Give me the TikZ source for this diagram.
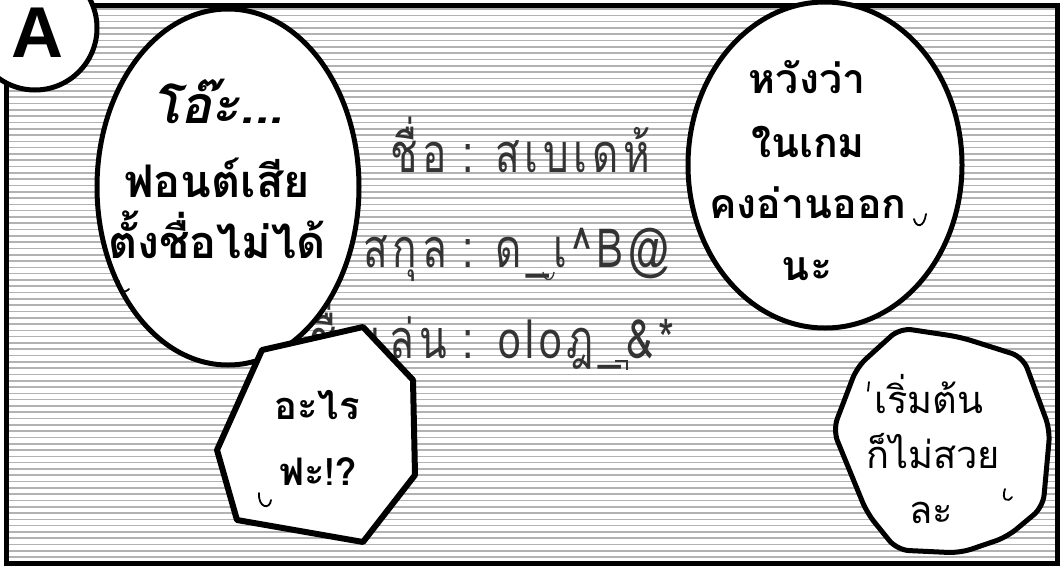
\documentclass[tikz,border=0pt]{standalone}
\usepackage{fontspec}
\newfontfamily\thaifont[Script=Thai]{Loma}
\newfontfamily\thaithin[Script=Thai,LetterSpace=12]{Loma}
\newfontfamily\panelfont{Liberation Sans}
\begin{document}
\begin{tikzpicture}[x=1pt,y=-1pt,
   bubble/.style={fill=white,draw=black,line width=5pt,line join=round},
   bgtext/.style={text=black!80,inner sep=0pt,xscale=0.75,
     font=\thaithin\fontsize{54}{54}\selectfont},
   talk/.style={anchor=base,inner sep=0pt,
     font=\thaifont\bfseries\fontsize{41}{41}\selectfont},
   breath/.style={line width=1.8pt,line cap=round}]
   \useasboundingbox (0,0) rectangle (1063,568);
   \fill[white] (0,0) rectangle (1063,568);
   \foreach \y in {9,15.3,...,561}
    \draw[black!30,line width=1.6pt] (8,\y) -- (1055,\y);
   \draw[line width=5pt] (6,5) rectangle (1057,563);
   \node[bgtext,anchor=base east] (name) at (447,172) {ชื่อ};
   \node[bgtext,anchor=base] (colA) at (468,172) {:};
   \node[bgtext,anchor=base west] (nameval) at (495,172) {สเบเดห้};
   \node[bgtext,anchor=base east] (surname) at (447,267) {สกุล};
   \node[bgtext,anchor=base] (colB) at (468,267) {:};
   \node[bgtext,anchor=base west] (surnameval) at (495,267) {ด\_เ\textasciicircum B@};
   \node[bgtext,anchor=base east] (nick) at (447,358) {ชื่อเล่น};
   \node[bgtext,anchor=base] (colC) at (468,358) {:};
   \node[bgtext,anchor=base west] (nickval) at (498,358) {oloฎ\_\&*};
   \draw[black!80,line width=1.3pt] (543,272) .. controls (544,282) and (553,282) .. (554,272);
   \draw[black!80,line width=1.3pt] (615,361) -- (627,361) -- (627,370);
   \draw[bubble] (228,187) ellipse [x radius=131,y radius=178];
   \draw[bubble] (825,165) ellipse [x radius=137,y radius=163];
   \draw[bubble,line width=6pt] (262,350) -- (363,327) -- (413,380) -- (415,475)
    -- (363,542) -- (237,520) -- (217,450) -- cycle;
   \draw[bubble,rounded corners=12pt] (900,328) -- (960,337) -- (1023,357)
    -- (1050,430) -- (1043,507) -- (1007,537) -- (960,553) -- (897,550)
    -- (867,513) -- (833,430) -- (857,367) -- cycle;
   \draw[fill=white,line width=5pt] (35,28) circle (62);
   \node[font=\panelfont\bfseries\fontsize{72}{72}\selectfont,inner sep=0pt] (panel) at (37,33) {A};
   \node[talk,font=\thaifont\bfseries\itshape\fontsize{52}{52}\selectfont] (oh) at (218,123) {โอ๊ะ...};
   \node[talk,font=\thaifont\bfseries\fontsize{45}{45}\selectfont] (font) at (217,197) {ฟอนต์เสีย};
   \node[talk,font=\thaifont\bfseries\fontsize{45}{45}\selectfont] (cant) at (217,258) {ตั้งชื่อไม่ได้};
   \node[talk] (hope) at (807,93) {หวังว่า};
   \node[talk] (ingame) at (808,157) {ในเกม};
   \node[talk] (read) at (808,218) {คงอ่านออก};
   \node[talk] (na) at (807,280) {นะ};
   \node[talk,font=\thaifont\bfseries\fontsize{38}{38}\selectfont] (what) at (317,419) {อะไร};
   \node[talk,font=\thaifont\bfseries\fontsize{38}{38}\selectfont] (wtf) at (318,485) {ฟะ!?};
   \node[talk,font=\thaifont\fontsize{38}{38}\selectfont] (start) at (929,413) {เริ่มต้น};
   \node[talk,font=\thaifont\fontsize{38}{38}\selectfont] (ugly) at (933,468) {ก็ไม่สวย};
   \node[talk,font=\thaifont\fontsize{38}{38}\selectfont] (la) at (931,523) {ละ};
   \draw[breath] (119,281) .. controls (118,292) and (124,294) .. (129,289);
   \draw[breath] (914,219) .. controls (916,228) and (924,228) .. (926,214);
   \draw[breath] (259,493) .. controls (258,508) and (270,510) .. (271,500);
   \draw[breath] (869,382) -- (868,391);
   \draw[breath] (1005,489) .. controls (1001,500) and (1008,503) .. (1012,497);
\end{tikzpicture}
\end{document}
